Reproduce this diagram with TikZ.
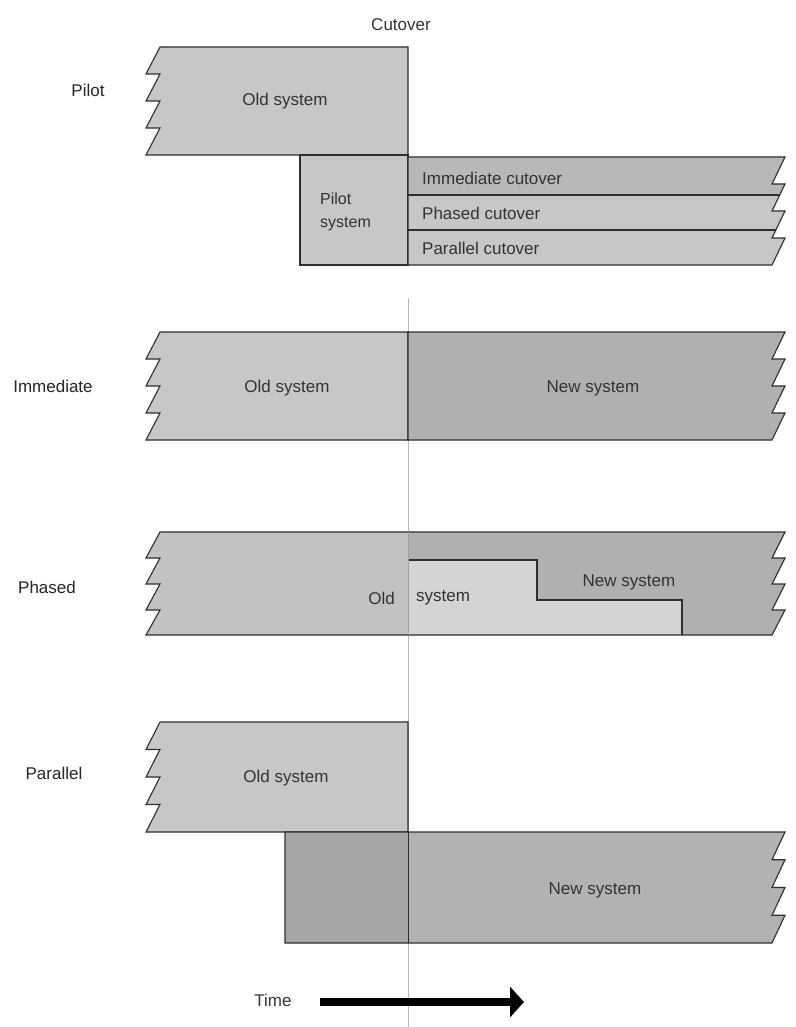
\documentclass[tikz,border=0pt]{standalone}
\usepackage{fontspec}
\setmainfont{Liberation Sans}
\usetikzlibrary{arrows.meta}
\definecolor{oldc}{gray}{0.78}
\definecolor{newc}{gray}{0.69}
\definecolor{lightc}{gray}{0.83}
\definecolor{edgec}{gray}{0.18}
\definecolor{txtc}{gray}{0.2}
\begin{document}
\begin{tikzpicture}[x=1pt,y=-1pt,
  box/.style={draw=edgec, line width=1.1pt, line join=miter},
  lbl/.style={font=\fontsize{17}{20}\selectfont, text=txtc, inner sep=0pt},
  rowlbl/.style={font=\fontsize{17}{20}\selectfont, text=black!85, inner sep=0pt},
  cutline/.style={draw=gray!55, line width=0.6pt},
  inline/.style={draw=edgec, line width=0.7pt}]
\useasboundingbox (0,0) rectangle (795,1027);
\fill[white] (0,0) rectangle (795,1027);

% cutover line
\coordinate (cuttop) at (408,298);
\coordinate (cutbot) at (408,1027);
\draw[cutline] (cuttop) -- (cutbot);

% ---------- Pilot ----------
\filldraw[box, fill=oldc] (160,47) -- (408,47) -- (408,155) -- (146,155) -- (160,128) -- (146,128) -- (160,101) -- (146,101) -- (160,74) -- (146,74) -- cycle;
\filldraw[box, fill=oldc] (300,155) rectangle (408,265);
\fill[fill=oldc] (408,157) -- (785,157) -- (772,184) -- (785,184) -- (772,211) -- (785,211) -- (772,238) -- (785,238) -- (772,265) -- (408,265) -- cycle;
\fill[fill=gray!56] (408,157) -- (785,157) -- (772,184) -- (785,184) -- (779.7,195) -- (408,195) -- cycle;
\draw[box] (408,157) -- (785,157) -- (772,184) -- (785,184) -- (772,211) -- (785,211) -- (772,238) -- (785,238) -- (772,265) -- (408,265) -- cycle;
\draw[box] (408,195) -- (779.7,195);
\draw[box] (408,230) -- (775.9,230);

\node[lbl] (cutover) at (401,25) {Cutover};
\node[rowlbl] (pilotL) at (88,90) {Pilot};
\node[lbl] (pOld) at (285,101) {Old system};
\node[lbl, anchor=west, align=left, font=\fontsize{16}{23}\selectfont] (pSys) at (320,212) {Pilot\\system};
\node[lbl, anchor=west] (bImm) at (422,178) {Immediate cutover};
\node[lbl, anchor=west] (bPha) at (422,213) {Phased cutover};
\node[lbl, anchor=west] (bPar) at (422,248) {Parallel cutover};

% ---------- Immediate ----------
\filldraw[box, fill=oldc] (160,332) -- (408,332) -- (408,440) -- (146,440) -- (160,413) -- (146,413) -- (160,386) -- (146,386) -- (160,359) -- (146,359) -- cycle;
\filldraw[box, fill=newc] (408,332) -- (785,332) -- (772,359) -- (785,359) -- (772,386) -- (785,386) -- (772,413) -- (785,413) -- (772,440) -- (408,440) -- cycle;
\node[rowlbl] (immL) at (53,386) {Immediate};
\node[lbl] (iOld) at (287,388) {Old system};
\node[lbl] (iNew) at (593,388) {New system};

% ---------- Phased ----------
\fill[fill=gray!48] (160,532) -- (408,532) -- (408,635) -- (146,635) -- (160,610) -- (146,610) -- (160,584) -- (146,584) -- (160,558) -- (146,558) -- cycle;
\fill[fill=newc] (408,532) -- (785,532) -- (772,558) -- (785,558) -- (772,584) -- (785,584) -- (772,610) -- (785,610) -- (772,635) -- (408,635) -- cycle;
\fill[fill=lightc] (408,560) -- (537,560) -- (537,600) -- (682,600) -- (682,635) -- (408,635) -- cycle;
\draw[box] (408,560) -- (537,560) -- (537,600) -- (682,600) -- (682,635);
\draw[box] (160,532) -- (785,532) -- (772,558) -- (785,558) -- (772,584) -- (785,584) -- (772,610) -- (785,610) -- (772,635) -- (146,635) -- (160,610) -- (146,610) -- (160,584) -- (146,584) -- (160,558) -- (146,558) -- cycle;
\draw[inline, draw=gray!75, line width=0.6pt] (408,532) -- (408,635);
\node[rowlbl] (phaL) at (47,587) {Phased};
\node[lbl, anchor=east] (phOld) at (395,598) {Old};
\node[lbl, anchor=west] (phSys) at (416,598) {system};
\node[lbl] (phNew) at (629,582) {New system};

% ---------- Parallel ----------
\filldraw[box, fill=oldc] (160,722) -- (408,722) -- (408,832) -- (146,832) -- (160,804.5) -- (146,804.5) -- (160,777) -- (146,777) -- (160,749.5) -- (146,749.5) -- cycle;
\fill[fill=gray!70] (285,832) rectangle (408,943);
\fill[fill=gray!60] (408,832) -- (785,832) -- (772,859.75) -- (785,859.75) -- (772,887.5) -- (785,887.5) -- (772,915.25) -- (785,915.25) -- (772,943) -- (408,943) -- cycle;
\draw[box] (285,832) -- (785,832) -- (772,859.75) -- (785,859.75) -- (772,887.5) -- (785,887.5) -- (772,915.25) -- (785,915.25) -- (772,943) -- (285,943) -- cycle;
\draw[inline] (408,832) -- (408,943);
\node[rowlbl] (parL) at (54,773) {Parallel};
\node[lbl] (paOld) at (286,778) {Old system};
\node[lbl] (paNew) at (595,890) {New system};

% ---------- Time arrow ----------
\node[lbl] (time) at (273,1000) {Time};
\coordinate (astart) at (320,1002);
\coordinate (aend) at (524,1002);
\draw[black, line width=8pt, -{Triangle[length=14pt,width=30pt]}] (astart) -- (aend);
\end{tikzpicture}
\end{document}
